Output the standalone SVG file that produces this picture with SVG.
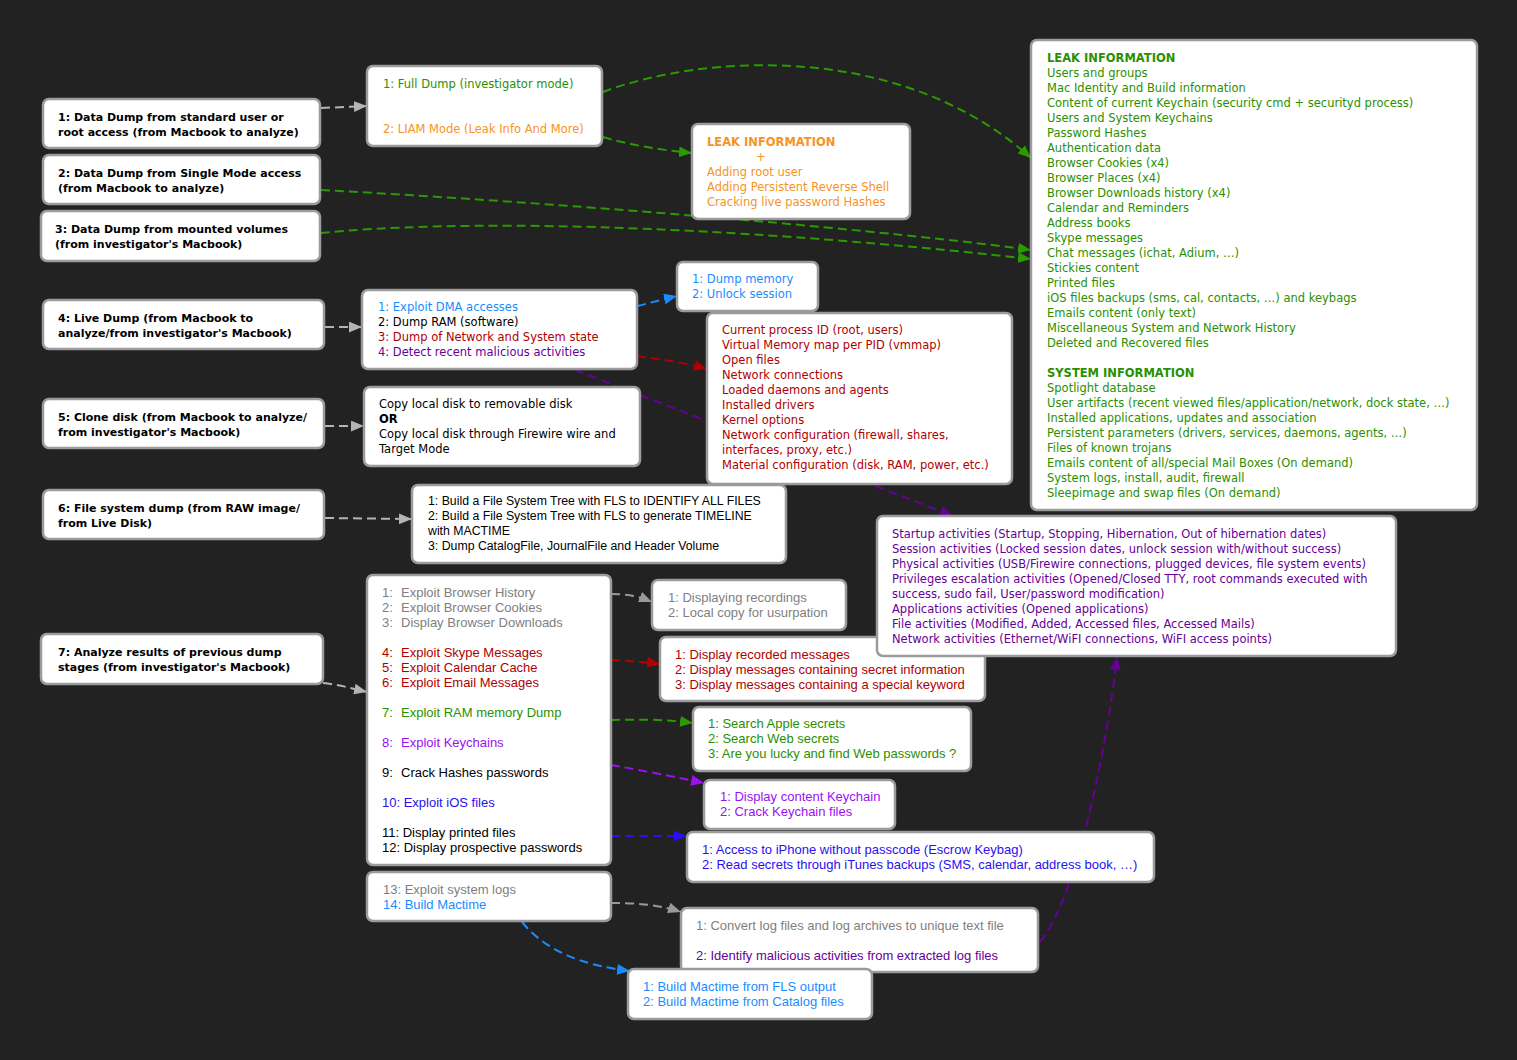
<svg xmlns="http://www.w3.org/2000/svg" width="1517" height="1060" viewBox="0 0 1517 1060">
<defs>
<style>
.box{fill:#fff;stroke:#9b9b9b;stroke-width:2.5}
.l{font-family:"DejaVu Sans","Noto Sans",sans-serif;font-size:11.5px}
.b{font-family:"DejaVu Sans","Noto Sans",sans-serif;font-size:11px;font-weight:bold;fill:#000}
.m{font-family:"Liberation Sans",Arial,sans-serif;font-size:13px}
.m6{font-family:"Liberation Sans",Arial,sans-serif;font-size:12.3px;fill:#000}
.c{fill:none;stroke-width:2;stroke-dasharray:9 5}
.green{fill:#2a9000}
.orange{fill:#f7931e}
.blue{fill:#1a8cff}
.red{fill:#b00000}
.purple{fill:#660099}
.violet{fill:#9a10f0}
.iosblue{fill:#2a10ee}
.gray{fill:#808080}
.black{fill:#000}
</style>
<marker id="aGray" viewBox="0 0 12 10" refX="12" refY="5" markerWidth="13" markerHeight="11" markerUnits="userSpaceOnUse" orient="auto"><path d="M0,0 L12,5 L0,10 z" fill="#b4b4b4"/></marker>
<marker id="aGray2" viewBox="0 0 12 10" refX="12" refY="5" markerWidth="13" markerHeight="11" markerUnits="userSpaceOnUse" orient="auto"><path d="M0,0 L12,5 L0,10 z" fill="#999"/></marker>
<marker id="aGreen" viewBox="0 0 12 10" refX="12" refY="5" markerWidth="13" markerHeight="11" markerUnits="userSpaceOnUse" orient="auto"><path d="M0,0 L12,5 L0,10 z" fill="#2a9a00"/></marker>
<marker id="aBlue" viewBox="0 0 12 10" refX="12" refY="5" markerWidth="13" markerHeight="11" markerUnits="userSpaceOnUse" orient="auto"><path d="M0,0 L12,5 L0,10 z" fill="#1a8cff"/></marker>
<marker id="aRed" viewBox="0 0 12 10" refX="12" refY="5" markerWidth="13" markerHeight="11" markerUnits="userSpaceOnUse" orient="auto"><path d="M0,0 L12,5 L0,10 z" fill="#b00000"/></marker>
<marker id="aPurple" viewBox="0 0 12 10" refX="12" refY="5" markerWidth="13" markerHeight="11" markerUnits="userSpaceOnUse" orient="auto"><path d="M0,0 L12,5 L0,10 z" fill="#660099"/></marker>
<marker id="aViolet" viewBox="0 0 12 10" refX="12" refY="5" markerWidth="13" markerHeight="11" markerUnits="userSpaceOnUse" orient="auto"><path d="M0,0 L12,5 L0,10 z" fill="#9a10f0"/></marker>
<marker id="aIos" viewBox="0 0 12 10" refX="12" refY="5" markerWidth="13" markerHeight="11" markerUnits="userSpaceOnUse" orient="auto"><path d="M0,0 L12,5 L0,10 z" fill="#2a10ee"/></marker>
</defs>
<rect width="1517" height="1060" fill="#222"/>

<g id="connectors">
<path class="c" stroke="#b4b4b4" marker-end="url(#aGray)" d="M321,108 L367,106"/>
<path class="c" stroke="#2a9a00" marker-end="url(#aGreen)" d="M603,92 C700,55 900,40 1031,158"/>
<path class="c" stroke="#2a9a00" marker-end="url(#aGreen)" d="M603,137 C630,145 660,150 692,153"/>
<path class="c" stroke="#2a9a00" marker-end="url(#aGreen)" d="M321,190 C600,205 900,232 1031,250"/>
<path class="c" stroke="#2a9a00" marker-end="url(#aGreen)" d="M321,233 C450,220 700,222 1031,259"/>
<path class="c" stroke="#b4b4b4" marker-end="url(#aGray)" d="M325,327 L362,327"/>
<path class="c" stroke="#1a8cff" marker-end="url(#aBlue)" d="M637,306 C650,303 660,300 677,296"/>
<path class="c" stroke="#b00000" marker-end="url(#aRed)" d="M637,356 C660,359 685,363 707,369"/>
<path class="c" stroke="#660099" marker-end="url(#aPurple)" d="M575,370 L953,516"/>
<path class="c" stroke="#b4b4b4" marker-end="url(#aGray)" d="M325,426 L364,426"/>
<path class="c" stroke="#b4b4b4" marker-end="url(#aGray)" d="M325,518 L412,519"/>
<path class="c" stroke="#b4b4b4" marker-end="url(#aGray)" d="M323,683 C340,685 350,688 367,692"/>
<path class="c" stroke="#999" marker-end="url(#aGray2)" d="M611,594 C630,594 640,597 652,602"/>
<path class="c" stroke="#b00000" marker-end="url(#aRed)" d="M611,660 C630,661 645,662 660,664"/>
<path class="c" stroke="#2a9a00" marker-end="url(#aGreen)" d="M611,720 C650,719 670,720 693,723"/>
<path class="c" stroke="#9a10f0" marker-end="url(#aViolet)" d="M611,765 C640,770 670,776 704,783"/>
<path class="c" stroke="#2a10ee" marker-end="url(#aIos)" d="M611,836 L687,836"/>
<path class="c" stroke="#999" marker-end="url(#aGray2)" d="M611,903 C640,903 660,905 681,912"/>
<path class="c" stroke="#1a8cff" marker-end="url(#aBlue)" d="M522,922 C545,950 580,965 630,971"/>
<path class="c" stroke="#660099" marker-end="url(#aPurple)" d="M1040,942 C1075,900 1105,760 1117,657"/>
</g>

<g id="n1"><rect class="box" x="43" y="99" width="277" height="49" rx="6"/>
<text class="b" x="58" y="121">1: Data Dump from standard user or</text>
<text class="b" x="58" y="136">root access (from Macbook to analyze)</text></g>
<g id="n2"><rect class="box" x="43" y="155" width="277" height="49" rx="6"/>
<text class="b" x="58" y="177">2: Data Dump from Single Mode access</text>
<text class="b" x="58" y="192">(from Macbook to analyze)</text></g>
<g id="n3"><rect class="box" x="41" y="211" width="279" height="50" rx="6"/>
<text class="b" x="55" y="233">3: Data Dump from mounted volumes</text>
<text class="b" x="55" y="248">(from investigator's Macbook)</text></g>
<g id="n4"><rect class="box" x="43" y="300" width="281" height="49" rx="6"/>
<text class="b" x="58" y="322">4: Live Dump (from Macbook to</text>
<text class="b" x="58" y="337">analyze/from investigator's Macbook)</text></g>
<g id="n5"><rect class="box" x="43" y="399" width="281" height="49" rx="6"/>
<text class="b" x="58" y="421">5: Clone disk (from Macbook to analyze/</text>
<text class="b" x="58" y="436">from investigator's Macbook)</text></g>
<g id="n6"><rect class="box" x="43" y="490" width="281" height="49" rx="6"/>
<text class="b" x="58" y="512">6: File system dump (from RAW image/</text>
<text class="b" x="58" y="527">from Live Disk)</text></g>
<g id="n7"><rect class="box" x="41" y="634" width="282" height="50" rx="6"/>
<text class="b" x="58" y="656">7: Analyze results of previous dump</text>
<text class="b" x="58" y="671">stages (from investigator's Macbook)</text></g>

<g id="fulldump"><rect class="box" x="367" y="66" width="235" height="80" rx="6"/>
<text class="l green" x="383" y="88">1: Full Dump (investigator mode)</text>
<text class="l orange" x="383" y="133">2: LIAM Mode (Leak Info And More)</text></g>

<g id="leakorange"><rect class="box" x="692" y="124" width="218" height="95" rx="6"/>
<text class="l orange" x="707" y="146" font-weight="bold">LEAK INFORMATION</text>
<text class="l orange" x="756" y="161">+</text>
<text class="l orange" x="707" y="176">Adding root user</text>
<text class="l orange" x="707" y="191">Adding Persistent Reverse Shell</text>
<text class="l orange" x="707" y="206">Cracking live password Hashes</text></g>

<g id="leakbig"><rect class="box" x="1031" y="40" width="446" height="470" rx="6"/>
<text class="l green" x="1047" y="62" font-weight="bold">LEAK INFORMATION</text>
<text class="l green" x="1047" y="77">Users and groups</text>
<text class="l green" x="1047" y="92">Mac Identity and Build information</text>
<text class="l green" x="1047" y="107">Content of current Keychain (security cmd + securityd process)</text>
<text class="l green" x="1047" y="122">Users and System Keychains</text>
<text class="l green" x="1047" y="137">Password Hashes</text>
<text class="l green" x="1047" y="152">Authentication data</text>
<text class="l green" x="1047" y="167">Browser Cookies (x4)</text>
<text class="l green" x="1047" y="182">Browser Places (x4)</text>
<text class="l green" x="1047" y="197">Browser Downloads history (x4)</text>
<text class="l green" x="1047" y="212">Calendar and Reminders</text>
<text class="l green" x="1047" y="227">Address books</text>
<text class="l green" x="1047" y="242">Skype messages</text>
<text class="l green" x="1047" y="257">Chat messages (ichat, Adium, …)</text>
<text class="l green" x="1047" y="272">Stickies content</text>
<text class="l green" x="1047" y="287">Printed files</text>
<text class="l green" x="1047" y="302">iOS files backups (sms, cal, contacts, …) and keybags</text>
<text class="l green" x="1047" y="317">Emails content (only text)</text>
<text class="l green" x="1047" y="332">Miscellaneous System and Network History</text>
<text class="l green" x="1047" y="347">Deleted and Recovered files</text>
<text class="l green" x="1047" y="377" font-weight="bold">SYSTEM INFORMATION</text>
<text class="l green" x="1047" y="392">Spotlight database</text>
<text class="l green" x="1047" y="407">User artifacts (recent viewed files/application/network, dock state, …)</text>
<text class="l green" x="1047" y="422">Installed applications, updates and association</text>
<text class="l green" x="1047" y="437">Persistent parameters (drivers, services, daemons, agents, …)</text>
<text class="l green" x="1047" y="452">Files of known trojans</text>
<text class="l green" x="1047" y="467">Emails content of all/special Mail Boxes (On demand)</text>
<text class="l green" x="1047" y="482">System logs, install, audit, firewall</text>
<text class="l green" x="1047" y="497">Sleepimage and swap files (On demand)</text></g>

<g id="dma"><rect class="box" x="677" y="262" width="141" height="49" rx="6"/>
<text class="l blue" x="692" y="283">1: Dump memory</text>
<text class="l blue" x="692" y="298">2: Unlock session</text></g>

<g id="live"><rect class="box" x="362" y="290" width="275" height="79" rx="6"/>
<text class="l blue" x="378" y="311">1: Exploit DMA accesses</text>
<text class="l black" x="378" y="326">2: Dump RAM (software)</text>
<text class="l red" x="378" y="341">3: Dump of Network and System state</text>
<text class="l purple" x="378" y="356">4: Detect recent malicious activities</text></g>

<g id="netstate"><rect class="box" x="707" y="313" width="305" height="171" rx="6"/>
<text class="l red" x="722" y="334">Current process ID (root, users)</text>
<text class="l red" x="722" y="349">Virtual Memory map per PID (vmmap)</text>
<text class="l red" x="722" y="364">Open files</text>
<text class="l red" x="722" y="379">Network connections</text>
<text class="l red" x="722" y="394">Loaded daemons and agents</text>
<text class="l red" x="722" y="409">Installed drivers</text>
<text class="l red" x="722" y="424">Kernel options</text>
<text class="l red" x="722" y="439">Network configuration (firewall, shares,</text>
<text class="l red" x="722" y="454">interfaces, proxy, etc.)</text>
<text class="l red" x="722" y="469">Material configuration (disk, RAM, power, etc.)</text></g>

<g id="clone"><rect class="box" x="364" y="387" width="276" height="79" rx="6"/>
<text class="l black" x="379" y="408">Copy local disk to removable disk</text>
<text class="l black" x="379" y="423" font-weight="bold">OR</text>
<text class="l black" x="379" y="438">Copy local disk through Firewire wire and</text>
<text class="l black" x="379" y="453">Target Mode</text></g>

<g id="fls"><rect class="box" x="412" y="485" width="374" height="78" rx="6"/>
<text class="m6" x="428" y="505">1: Build a File System Tree with FLS to IDENTIFY ALL FILES</text>
<text class="m6" x="428" y="520">2: Build a File System Tree with FLS to generate TIMELINE</text>
<text class="m6" x="428" y="535">with MACTIME</text>
<text class="m6" x="428" y="550">3: Dump CatalogFile, JournalFile and Header Volume</text></g>

<g id="analyze"><rect class="box" x="367" y="575" width="244" height="290" rx="6"/>
<text class="m gray" y="597"><tspan x="382">1:</tspan><tspan x="401">Exploit Browser History</tspan></text>
<text class="m gray" y="612"><tspan x="382">2:</tspan><tspan x="401">Exploit Browser Cookies</tspan></text>
<text class="m gray" y="627"><tspan x="382">3:</tspan><tspan x="401">Display Browser Downloads</tspan></text>
<text class="m red" y="657"><tspan x="382">4:</tspan><tspan x="401">Exploit Skype Messages</tspan></text>
<text class="m red" y="672"><tspan x="382">5:</tspan><tspan x="401">Exploit Calendar Cache</tspan></text>
<text class="m red" y="687"><tspan x="382">6:</tspan><tspan x="401">Exploit Email Messages</tspan></text>
<text class="m green" y="717"><tspan x="382">7:</tspan><tspan x="401">Exploit RAM memory Dump</tspan></text>
<text class="m violet" y="747"><tspan x="382">8:</tspan><tspan x="401">Exploit Keychains</tspan></text>
<text class="m black" y="777"><tspan x="382">9:</tspan><tspan x="401">Crack Hashes passwords</tspan></text>
<text class="m iosblue" x="382" y="807">10: Exploit iOS files</text>
<text class="m black" x="382" y="837">11: Display printed files</text>
<text class="m black" x="382" y="852">12: Display prospective passwords</text></g>

<g id="browser"><rect class="box" x="652" y="580" width="194" height="50" rx="6"/>
<text class="m gray" x="668" y="602">1: Displaying recordings</text>
<text class="m gray" x="668" y="617">2: Local copy for usurpation</text></g>

<g id="messages"><rect class="box" x="660" y="637" width="325" height="64" rx="6"/>
<text class="m red" x="675" y="659">1: Display recorded messages</text>
<text class="m red" x="675" y="674">2: Display messages containing secret information</text>
<text class="m red" x="675" y="689">3: Display messages containing a special keyword</text></g>

<g id="activities"><rect class="box" x="877" y="516" width="519" height="140" rx="6"/>
<text class="l purple" x="892" y="538">Startup activities (Startup, Stopping, Hibernation, Out of hibernation dates)</text>
<text class="l purple" x="892" y="553">Session activities (Locked session dates, unlock session with/without success)</text>
<text class="l purple" x="892" y="568">Physical activities (USB/Firewire connections, plugged devices, file system events)</text>
<text class="l purple" x="892" y="583">Privileges escalation activities (Opened/Closed TTY, root commands executed with</text>
<text class="l purple" x="892" y="598">success, sudo fail, User/password modification)</text>
<text class="l purple" x="892" y="613">Applications activities (Opened applications)</text>
<text class="l purple" x="892" y="628">File activities (Modified, Added, Accessed files, Accessed Mails)</text>
<text class="l purple" x="892" y="643">Network activities (Ethernet/WiFI connections, WiFI access points)</text></g>

<g id="secrets"><rect class="box" x="693" y="707" width="278" height="64" rx="6"/>
<text class="m green" x="708" y="728">1: Search Apple secrets</text>
<text class="m green" x="708" y="743">2: Search Web secrets</text>
<text class="m green" x="708" y="758">3: Are you lucky and find Web passwords ?</text></g>

<g id="keychain"><rect class="box" x="704" y="780" width="191" height="49" rx="6"/>
<text class="m violet" x="720" y="801">1: Display content Keychain</text>
<text class="m violet" x="720" y="816">2: Crack Keychain files</text></g>

<g id="ios"><rect class="box" x="687" y="832" width="467" height="50" rx="6"/>
<text class="m iosblue" x="702" y="854">1: Access to iPhone without passcode (Escrow Keybag)</text>
<text class="m iosblue" x="702" y="869">2: Read secrets through iTunes backups (SMS, calendar, address book, …)</text></g>

<g id="logs"><rect class="box" x="367" y="872" width="244" height="49" rx="6"/>
<text class="m gray" x="383" y="894">13: Exploit system logs</text>
<text class="m blue" x="383" y="909">14: Build Mactime</text></g>

<g id="convert"><rect class="box" x="681" y="908" width="357" height="64" rx="6"/>
<text class="m gray" x="696" y="930">1: Convert log files and log archives to unique text file</text>
<text class="m purple" x="696" y="960">2: Identify malicious activities from extracted log files</text></g>

<g id="mactime"><rect class="box" x="628" y="969" width="244" height="50" rx="6"/>
<text class="m blue" x="643" y="991">1: Build Mactime from FLS output</text>
<text class="m blue" x="643" y="1006">2: Build Mactime from Catalog files</text></g>
</svg>
